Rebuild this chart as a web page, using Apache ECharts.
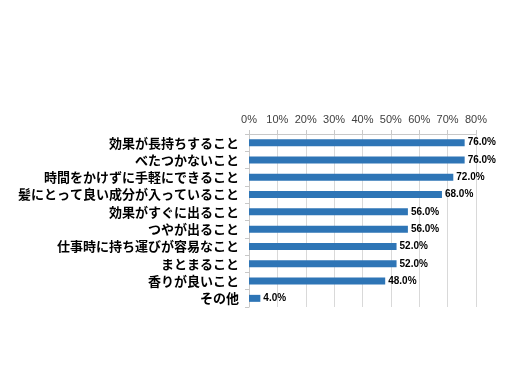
<!DOCTYPE html>
<html><head><meta charset="utf-8">
<script src="https://cdn.jsdelivr.net/npm/echarts@6/dist/echarts.min.js"></script>
<style>html,body{margin:0;padding:0;background:#fff}#c{width:512px;height:384px}</style>
</head><body><div id="c"></div>
<script>
const categories = ['効果が長持ちすること','べたつかないこと','時間をかけずに手軽にできること','髪にとって良い成分が入っていること','効果がすぐに出ること','つやが出ること','仕事時に持ち運びが容易なこと','まとまること','香りが良いこと','その他'];
const values = [76.0, 76.0, 72.0, 68.0, 56.0, 56.0, 52.0, 52.0, 48.0, 4.0];
const ticks = [0,10,20,30,40,50,60,70,80];

const chart = echarts.init(document.getElementById('c'));
chart.setOption({
  animation: false,
  grid: {left: 249, right: 36, top: 134, bottom: 77, containLabel: false},
  xAxis: {
    type: 'value', position: 'top', min: 0, max: 80, interval: 10,
    axisLine: {show: true, lineStyle: {color: '#c8c8c8'}},
    axisTick: {show: true, length: 4, lineStyle: {color: '#c8c8c8'}},
    splitLine: {show: true, lineStyle: {color: '#d9d9d9'}},
    axisLabel: {formatter: v => v + '%', color: '#404040', fontSize: 11, fontFamily: 'Liberation Sans', margin: 9}
  },
  yAxis: {
    type: 'category', inverse: true, data: categories,
    axisLine: {show: true, lineStyle: {color: '#c8c8c8'}},
    axisTick: {show: true, length: 4, lineStyle: {color: '#c8c8c8'}},
    axisLabel: {color: '#000', fontSize: 13, fontWeight: 'bold', fontFamily: 'Noto Sans CJK JP', margin: 10}
  },
  series: [{
    type: 'bar', data: values, barWidth: 7,
    itemStyle: {color: '#2E75B6'},
    label: {show: true, position: 'right', distance: 3, formatter: p => p.value.toFixed(1) + '%', color: '#000', fontSize: 10, fontWeight: 'bold', fontFamily: 'Liberation Sans'}
  }]
});
</script></body></html>
